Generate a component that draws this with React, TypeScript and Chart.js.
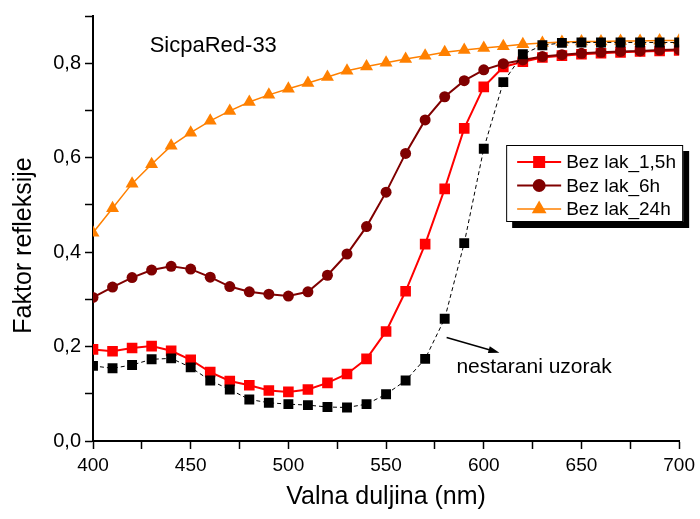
import React, { useEffect, useRef } from "react";
import { Chart, registerables } from "chart.js";

Chart.register(...registerables);

const FONT = "'Liberation Sans', Arial, Helvetica, sans-serif";

// Wavelengths (nm)
const wavelengths = [
  400, 410, 420, 430, 440, 450, 460, 470, 480, 490, 500, 510, 520, 530, 540, 550,
  560, 570, 580, 590, 600, 610, 620, 630, 640, 650, 660, 670, 680, 690, 700,
];

// Reflectance factor series
const bezLak15h = [
  0.194, 0.19, 0.197, 0.201, 0.191, 0.172, 0.146, 0.127, 0.118, 0.107, 0.104, 0.109,
  0.123, 0.142, 0.174, 0.232, 0.317, 0.417, 0.534, 0.662, 0.75, 0.792, 0.803, 0.812,
  0.816, 0.819, 0.821, 0.823, 0.825, 0.826, 0.827,
];
const bezLak6h = [
  0.304, 0.326, 0.346, 0.362, 0.37, 0.364, 0.347, 0.327, 0.316, 0.311, 0.307, 0.316,
  0.351, 0.396, 0.454, 0.527, 0.609, 0.68, 0.729, 0.763, 0.786, 0.799, 0.807, 0.814,
  0.818, 0.821, 0.823, 0.825, 0.826, 0.828, 0.829,
];
const bezLak24h = [
  0.441, 0.493, 0.545, 0.586, 0.625, 0.653, 0.678, 0.699, 0.718, 0.733, 0.746, 0.758,
  0.771, 0.784, 0.793, 0.801, 0.809, 0.816, 0.823, 0.828, 0.832, 0.836, 0.84, 0.843,
  0.845, 0.846, 0.846, 0.847, 0.847, 0.848, 0.848,
];
const nestaraniUzorak = [
  0.159, 0.154, 0.161, 0.173, 0.175, 0.156, 0.128, 0.109, 0.088, 0.081, 0.078, 0.076,
  0.072, 0.071, 0.078, 0.099, 0.128, 0.174, 0.259, 0.419, 0.619, 0.76, 0.819, 0.838,
  0.843, 0.844, 0.844, 0.844, 0.844, 0.844, 0.844,
];

const legendLabels = ["Bez lak_1,5h", "Bez lak_6h", "Bez lak_24h"];
const chartTitle = "SicpaRed-33";
const annotationText = "nestarani uzorak";
const xAxisTitle = "Valna duljina (nm)";
const yAxisTitle = "Faktor refleksije";

// annotation anchors in data coordinates
const titleAnchor = { x: 429, y: 0.836 };
const annotationAnchor = { x: 586, y: 0.156 };
const arrowFrom = { x: 581, y: 0.219 };
const arrowTo = { x: 608, y: 0.187 };

const toPoints = (ys: number[]) => wavelengths.map((x, i) => ({ x, y: ys[i] }));

function drawMarker(ctx: CanvasRenderingContext2D, style: string, x: number, y: number, r: number, color: string) {
  ctx.fillStyle = color;
  ctx.beginPath();
  if (style === "rect") {
    const s = Math.SQRT1_2 * r;
    ctx.rect(x - s, y - s, 2 * s, 2 * s);
  } else if (style === "circle") {
    ctx.arc(x, y, r, 0, Math.PI * 2);
  } else if (style === "triangle") {
    let rad = 0;
    ctx.moveTo(x + Math.sin(rad) * r, y - Math.cos(rad) * r);
    rad += (2 * Math.PI) / 3;
    ctx.lineTo(x + Math.sin(rad) * r, y - Math.cos(rad) * r);
    rad += (2 * Math.PI) / 3;
    ctx.lineTo(x + Math.sin(rad) * r, y - Math.cos(rad) * r);
    ctx.closePath();
  }
  ctx.fill();
}

const overlayPlugin = {
  id: "overlay",
  afterDraw(chart: any) {
    const { ctx, chartArea } = chart;
    const xs = chart.scales.x;
    const ys = chart.scales.y;
    ctx.save();
    ctx.fillStyle = "#000";
    ctx.textBaseline = "middle";
    ctx.textAlign = "left";

    // chart title text
    ctx.font = `22px ${FONT}`;
    ctx.fillText(chartTitle, xs.getPixelForValue(titleAnchor.x), ys.getPixelForValue(titleAnchor.y));

    // annotation
    ctx.font = `21px ${FONT}`;
    ctx.fillText(annotationText, xs.getPixelForValue(annotationAnchor.x), ys.getPixelForValue(annotationAnchor.y));

    // arrow
    const x1 = xs.getPixelForValue(arrowFrom.x);
    const y1 = ys.getPixelForValue(arrowFrom.y);
    const x2 = xs.getPixelForValue(arrowTo.x);
    const y2 = ys.getPixelForValue(arrowTo.y);
    const ang = Math.atan2(y2 - y1, x2 - x1);
    const headLen = 11;
    const headW = 3.5;
    ctx.strokeStyle = "#000";
    ctx.lineWidth = 1.5;
    ctx.beginPath();
    ctx.moveTo(x1, y1);
    ctx.lineTo(x2 - Math.cos(ang) * headLen * 0.8, y2 - Math.sin(ang) * headLen * 0.8);
    ctx.stroke();
    ctx.beginPath();
    ctx.moveTo(x2, y2);
    ctx.lineTo(
      x2 - Math.cos(ang) * headLen - Math.sin(ang) * headW,
      y2 - Math.sin(ang) * headLen + Math.cos(ang) * headW
    );
    ctx.lineTo(
      x2 - Math.cos(ang) * headLen + Math.sin(ang) * headW,
      y2 - Math.sin(ang) * headLen - Math.cos(ang) * headW
    );
    ctx.closePath();
    ctx.fill();

    // axis titles
    ctx.textAlign = "center";
    ctx.font = `25px ${FONT}`;
    ctx.fillText(xAxisTitle, (chartArea.left + chartArea.right) / 2, chartArea.bottom + 56);
    ctx.save();
    ctx.translate(24, (chartArea.top + chartArea.bottom) / 2 + 17);
    ctx.rotate(-Math.PI / 2);
    ctx.fillText(yAxisTitle, 0, 0);
    ctx.restore();

    // legend box with shadow
    const bw = 177;
    const bh = 77;
    const bx = chartArea.right - 173;
    const by = chartArea.top + 129;
    ctx.fillStyle = "#000";
    ctx.fillRect(bx + 6, by + 6, bw, bh);
    ctx.fillStyle = "#fff";
    ctx.fillRect(bx, by, bw, bh);
    ctx.strokeStyle = "#000";
    ctx.lineWidth = 1;
    ctx.strokeRect(bx + 0.5, by + 0.5, bw - 1, bh - 1);

    const dsList = chart.data.datasets.filter((d: any) => legendLabels.includes(d.label));
    const ordered = legendLabels.map((l) => dsList.find((d: any) => d.label === l));
    ctx.textAlign = "left";
    ctx.font = `19px ${FONT}`;
    ordered.forEach((d: any, i: number) => {
      if (!d) return;
      const ry = by + 17 + i * 23.5;
      ctx.strokeStyle = d.borderColor;
      ctx.lineWidth = d.borderWidth;
      ctx.setLineDash([]);
      ctx.beginPath();
      ctx.moveTo(bx + 11, ry);
      ctx.lineTo(bx + 55, ry);
      ctx.stroke();
      drawMarker(ctx, d.pointStyle, bx + 33, ry, d.pointRadius + 1, d.backgroundColor);
      ctx.fillStyle = "#000";
      ctx.fillText(d.label, bx + 60, ry + 1);
    });

    ctx.restore();
  },
};

export default function App() {
  const canvasRef = useRef<HTMLCanvasElement | null>(null);

  useEffect(() => {
    if (!canvasRef.current) return;
    Chart.defaults.font.family = FONT;
    Chart.defaults.color = "#000";

    const chart = new Chart(canvasRef.current, {
      type: "line",
      data: {
        datasets: [
          {
            label: "nestarani",
            data: toPoints(nestaraniUzorak),
            borderColor: "#000000",
            backgroundColor: "#000000",
            borderWidth: 1,
            borderDash: [4, 3],
            pointStyle: "rect",
            pointRadius: 7,
            pointBorderWidth: 0,
            order: 0,
          },
          {
            label: legendLabels[0],
            data: toPoints(bezLak15h),
            borderColor: "#ff0000",
            backgroundColor: "#ff0000",
            borderWidth: 2,
            pointStyle: "rect",
            pointRadius: 7.5,
            pointBorderWidth: 0,
            order: 2,
          },
          {
            label: legendLabels[1],
            data: toPoints(bezLak6h),
            borderColor: "#800000",
            backgroundColor: "#800000",
            borderWidth: 2,
            pointStyle: "circle",
            pointRadius: 5.5,
            pointBorderWidth: 0,
            order: 1,
          },
          {
            label: legendLabels[2],
            data: toPoints(bezLak24h),
            borderColor: "#ff8000",
            backgroundColor: "#ff8000",
            borderWidth: 1.5,
            pointStyle: "triangle",
            pointRadius: 7.5,
            pointBorderWidth: 0,
            order: 3,
          },
        ],
      },
      options: {
        responsive: false,
        animation: false,
        events: [],
        layout: { padding: { top: 14, right: 20, left: 0, bottom: 0 } },
        plugins: {
          legend: { display: false },
          tooltip: { enabled: false },
          title: { display: false },
        },
        elements: { line: { tension: 0 } },
        scales: {
          x: {
            type: "linear",
            min: 400,
            max: 700,
            afterFit: (s: any) => {
              s.height = 78;
            },
            ticks: {
              stepSize: 25,
              autoSkip: false,
              maxRotation: 0,
              padding: 5,
              color: "#000",
              font: { size: 19, family: FONT },
              callback: (v: any) => (Number(v) % 50 === 0 ? String(v) : ""),
            },
            grid: {
              drawOnChartArea: false,
              drawTicks: true,
              tickLength: 8,
              tickWidth: 1.5,
              tickColor: "#000",
            },
            border: { display: true, color: "#000", width: 2 },
          },
          y: {
            type: "linear",
            min: 0,
            max: 0.9,
            afterFit: (s: any) => {
              s.width = 93;
            },
            ticks: {
              stepSize: 0.1,
              autoSkip: false,
              padding: 4,
              color: "#000",
              font: { size: 20, family: FONT },
              callback: (v: any) => {
                const k = Math.round(Number(v) * 10);
                return k % 2 === 0 ? (k / 10).toFixed(1).replace(".", ",") : "";
              },
            },
            grid: {
              drawOnChartArea: false,
              drawTicks: true,
              tickLength: 8,
              tickWidth: 1.5,
              tickColor: "#000",
            },
            border: { display: true, color: "#000", width: 2 },
          },
        },
      },
      plugins: [overlayPlugin],
    } as any);

    return () => chart.destroy();
  }, []);

  return (
    <div style={{ position: "absolute", left: 0, top: 0, width: 700, height: 519, background: "#fff" }}>
      <canvas ref={canvasRef} width={700} height={519} style={{ display: "block", width: 700, height: 519 }} />
    </div>
  );
}
